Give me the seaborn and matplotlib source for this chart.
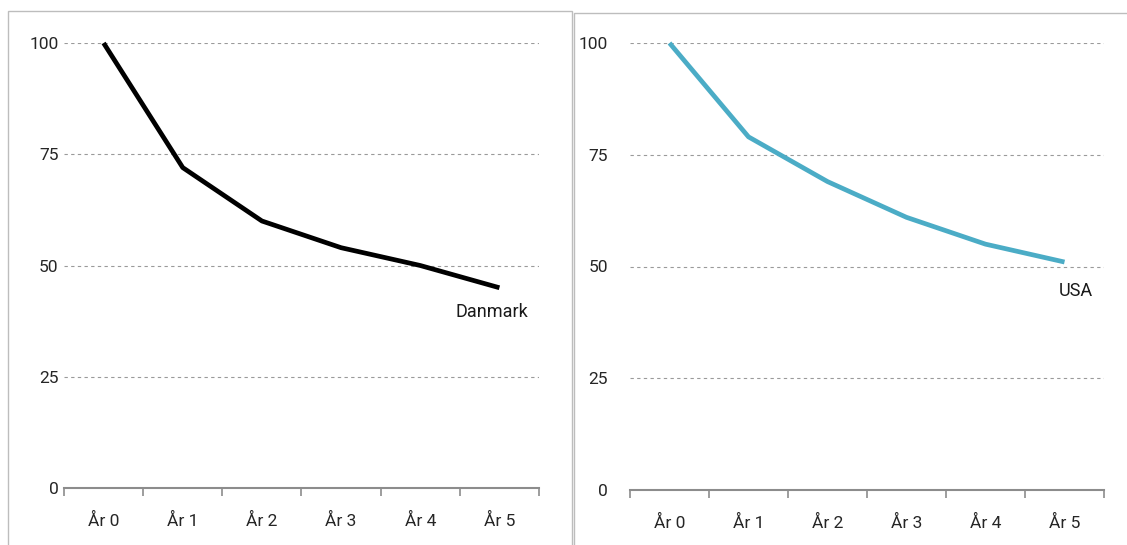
import matplotlib
matplotlib.use("Agg")
import matplotlib.pyplot as plt
from matplotlib.patches import Rectangle
import seaborn as sns
import pandas as pd

# Index values (year 0 = 100)
years = ["År 0", "År 1", "År 2", "År 3", "År 4", "År 5"]
danmark = [100, 72, 60, 54, 50, 45]
usa = [100, 79, 69, 61, 55, 51]
y_ticks = [0, 25, 50, 75, 100]

sns.set_style("white")
plt.rcParams["font.family"] = ["Roboto", "DejaVu Sans"]

W, H = 1127, 545
fig = plt.figure(figsize=(W / 100, H / 100), dpi=100)

# panel frames
frame_col = "#bdbdbd"
fig.patches.append(Rectangle((8 / W, -0.05), (572 - 8) / W, (H - 11) / H + 0.05,
                             transform=fig.transFigure, fill=False,
                             edgecolor=frame_col, linewidth=1.0))
fig.patches.append(Rectangle((574 / W, -0.05), (W + 10 - 574) / W, (H - 13) / H + 0.05,
                             transform=fig.transFigure, fill=False,
                             edgecolor=frame_col, linewidth=1.0))


def panel(rect, values, color, label, label_xy, ypad):
    ax = fig.add_axes(rect)
    df = pd.DataFrame({"pos": range(len(years)), "val": values})
    sns.lineplot(data=df, x="pos", y="val", ax=ax, color=color, linewidth=3.4,
                 solid_capstyle="butt", clip_on=False)
    ax.set_xlim(-0.5, len(years) - 0.5)
    ax.set_ylim(0, 100)
    ax.set_xlabel("")
    ax.set_ylabel("")
    for s in ["top", "right", "left"]:
        ax.spines[s].set_visible(False)
    ax.spines["bottom"].set_color("#8c8c8c")
    ax.spines["bottom"].set_linewidth(1.5)
    for v in y_ticks[1:]:
        ax.axhline(v, color="#9a9a9a", linestyle=(0, (3, 3)), linewidth=0.8, zorder=0)
    ax.set_yticks(y_ticks)
    ax.set_yticklabels([str(v) for v in y_ticks], fontsize=12.5)
    ax.tick_params(axis="y", left=False, length=0, pad=ypad)
    ax.set_xticks(range(len(years)))
    ax.set_xticklabels(years, fontsize=12.5)
    ax.set_xticks([i - 0.5 for i in range(len(years) + 1)], minor=True)
    ax.tick_params(axis="x", which="major", bottom=False, length=0, pad=18)
    ax.tick_params(axis="x", which="minor", bottom=True, length=6, width=1.2,
                   color="#8c8c8c", direction="out")
    ax.text(label_xy[0], label_xy[1], label, fontsize=13, ha="center", va="center",
            color="#1a1a1a")
    ax.patch.set_alpha(0)
    return ax


panel([64 / W, (H - 488) / H, (539 - 64) / W, (488 - 43) / H],
      danmark, "black", "Danmark", (4.9, 39.5), 4)
panel([630 / W, (H - 490) / H, (1104 - 630) / W, (490 - 43) / H],
      usa, "#4bacc6", "USA", (5.15, 44.5), 16)

fig.savefig("out.png", dpi=100)
